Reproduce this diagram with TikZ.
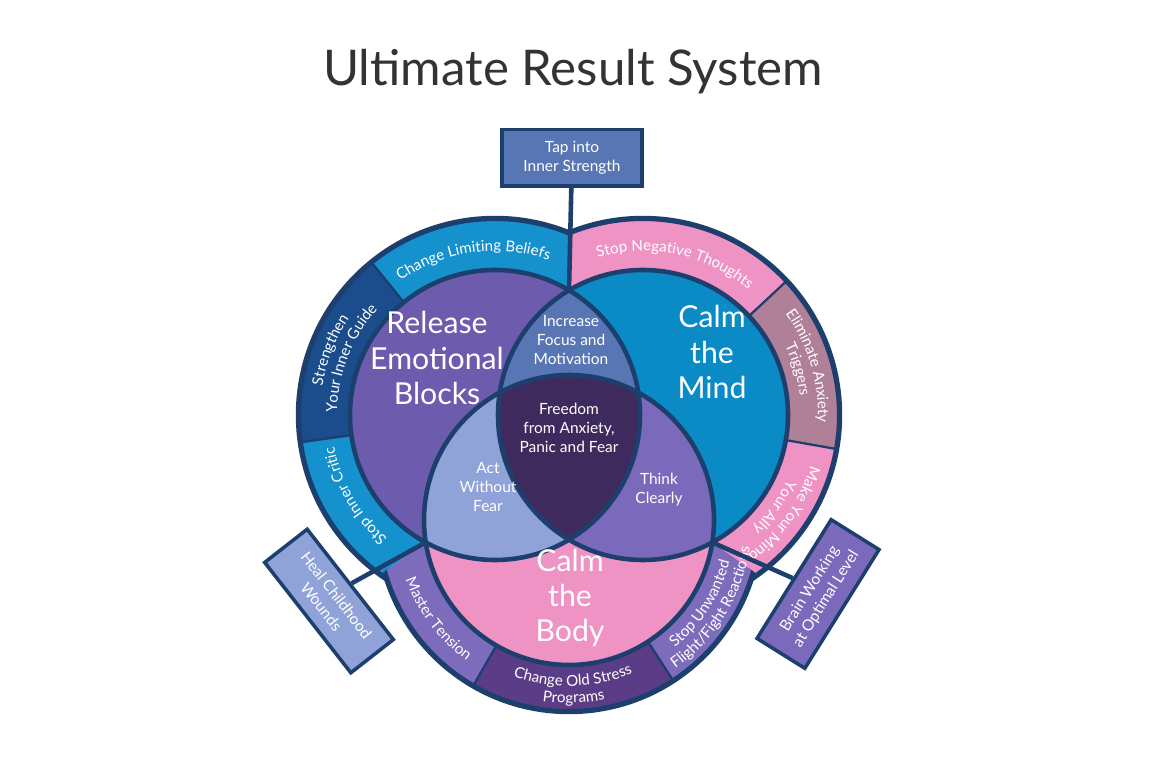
\documentclass[tikz,border=0pt]{standalone}
\usepackage{fontspec}
\setmainfont{Lato}
\usetikzlibrary{decorations.text}
\definecolor{edge}{HTML}{1D3F6E}
\definecolor{ringCyan}{HTML}{1591CD}
\definecolor{ringNavy}{HTML}{1B4D8C}
\definecolor{ringPink}{HTML}{EF93C4}
\definecolor{ringMauve}{HTML}{B08098}
\definecolor{ringPurple}{HTML}{7D6CBC}
\definecolor{ringPlum}{HTML}{5B3D87}
\definecolor{inL}{HTML}{6D5CAE}
\definecolor{inR}{HTML}{0A8BC6}
\definecolor{inB}{HTML}{EF92C4}
\definecolor{capLR}{HTML}{5876B3}
\definecolor{capLB}{HTML}{90A3D8}
\definecolor{capRB}{HTML}{7B69BB}
\definecolor{capLRB}{HTML}{3F2A5E}
\newcommand\ringtext[5]{%
  \path[decorate,decoration={text along path,text color=white,text align=center,
    text={|\fontsize{4.3}{5}\selectfont|#5}}]
    (#1) ++(#3:#2) arc[start angle=#3,end angle=#4,radius=#2];}
\begin{document}
\begin{tikzpicture}[
        bigtext/.style={text=white, font=\fontsize{8.6}{10}\selectfont, align=center},
        smalltext/.style={text=white, font=\fontsize{4.4}{5.4}\selectfont, align=center},
        tipbox/.style={draw=edge, line width=1pt, text=white, align=center,
            font=\fontsize{4.4}{5.4}\selectfont, minimum width=1.4cm, minimum height=0.52cm},
        link/.style={edge, line width=1.3pt}
    ]
    \useasboundingbox (0,0) rectangle (11.52,7.68);
    \coordinate (L) at (4.95,3.53);
    \coordinate (R) at (6.43,3.53);
    \coordinate (B) at (5.69,2.48);
    \coordinate (top) at (5.69,4.777);
    \coordinate (lb) at (4.257,2.256);
    \coordinate (rb) at (7.123,2.256);

    % title
    \node[font=\fontsize{14}{17}\selectfont, text=black!80] (title) at (5.73,6.96) {Ultimate Result System};

    % outer rings
    \foreach \c/\r in {L/1.95,R/1.95,B/1.90}
        \draw[edge, line width=2.4pt] (\c) circle (\r);
    \begin{scope}
        \clip (5.69,3.266) -- (5.69,8) -- (0,8) -- (0,-0.191) -- (0.785,-0.191) -- cycle;
        \foreach \a/\b/\c in {60/129/ringCyan,129/188/ringNavy,188/245/ringCyan}
            \filldraw[fill=\c, draw=edge, line width=0.6pt] (L) -- ++(\a:1.95) arc[start angle=\a,end angle=\b,radius=1.95] -- cycle;
    \end{scope}
    \begin{scope}
        \clip (5.69,3.266) -- (5.69,8) -- (11.52,8) -- (11.52,-0.191) -- (10.595,-0.191) -- cycle;
        \foreach \a/\b/\c in {120/43/ringPink,43/-10/ringMauve,-10/-65/ringPink}
            \filldraw[fill=\c, draw=edge, line width=0.6pt] (R) -- ++(\a:1.95) arc[start angle=\a,end angle=\b,radius=1.95] -- cycle;
    \end{scope}
    \begin{scope}
        \clip (5.69,3.266) -- (0.785,-0.191) -- (0.785,-1) -- (10.595,-1) -- (10.595,-0.191) -- cycle;
        \foreach \a/\b/\c in {180/240/ringPurple,240/303/ringPlum,303/360/ringPurple}
            \filldraw[fill=\c, draw=edge, line width=0.6pt] (B) -- ++(\a:1.9) arc[start angle=\a,end angle=\b,radius=1.9] -- cycle;
    \end{scope}

    % inner circles
    \fill[inL] (L) circle (1.45);
    \fill[inR] (R) circle (1.45);
    \fill[inB] (B) circle (1.45);
    \begin{scope}
        \clip (R) circle (1.45);
        \fill[capRB] (B) circle (1.45);
    \end{scope}
    \begin{scope}
        \clip (L) circle (1.45);
        \fill[capLR] (R) circle (1.45);
        \fill[capLB] (B) circle (1.45);
        \clip (R) circle (1.45);
        \fill[capLRB] (B) circle (1.45);
    \end{scope}
    \foreach \c in {L,R,B}
        \draw[edge, line width=1.3pt] (\c) circle (1.45);

    % ring labels
    \ringtext{L}{1.64}{128}{68}{Change Limiting Beliefs}
    \ringtext{L}{1.75}{184}{133}{Strengthen}
    \ringtext{L}{1.58}{184}{133}{Your Inner Guide}
    \ringtext{L}{1.64}{230}{190}{Stop Inner Critic}
    \ringtext{R}{1.64}{110}{46}{Stop Negative Thoughts}
    \ringtext{R}{1.75}{40}{-7}{Eliminate Anxiety}
    \ringtext{R}{1.58}{40}{-7}{Triggers}
    \ringtext{R}{1.75}{-6}{-64}{Make Your Mind}
    \ringtext{R}{1.58}{-6}{-64}{Your Ally}
    \ringtext{B}{1.74}{196}{238}{Master Tension}
    \ringtext{B}{1.66}{245}{298}{Change Old Stress}
    \ringtext{B}{1.83}{250}{293}{Programs}
    \ringtext{B}{1.66}{303}{352}{Stop Unwanted}
    \ringtext{B}{1.83}{299}{358}{Flight/Fight Reactions}

    % circle labels
    \node[bigtext] (release) at (4.37,4.10) {Release\\Emotional\\Blocks};
    \node[bigtext] (mind) at (7.12,4.16) {Calm\\the\\Mind};
    \node[bigtext] (body) at (5.70,1.70) {Calm\\the\\Body};
    \node[smalltext] (focus) at (5.71,4.28) {Increase\\Focus and\\Motivation};
    \node[smalltext] (freedom) at (5.69,3.40) {Freedom\\from Anxiety,\\Panic and Fear};
    \node[smalltext] (act) at (4.88,2.81) {Act\\Without\\Fear};
    \node[smalltext] (think) at (6.59,2.78) {Think\\Clearly};

    % boxes
    \node[tipbox, fill=capLR] (tap) at (5.72,6.10) {Tap into\\Inner Strength};
    \node[tipbox, fill=capLB, rotate=-52] (heal) at (3.29,1.67) {Heal Childhood\\Wounds};
    \node[tipbox, fill=capRB, rotate=58] (brain) at (8.18,1.74) {Brain Working\\at Optimal Level};
    \draw[link] (tap) -- (top);
    \draw[link] (lb) -- (heal.north);
    \draw[link] (rb) -- (brain.north);
\end{tikzpicture}
\end{document}
